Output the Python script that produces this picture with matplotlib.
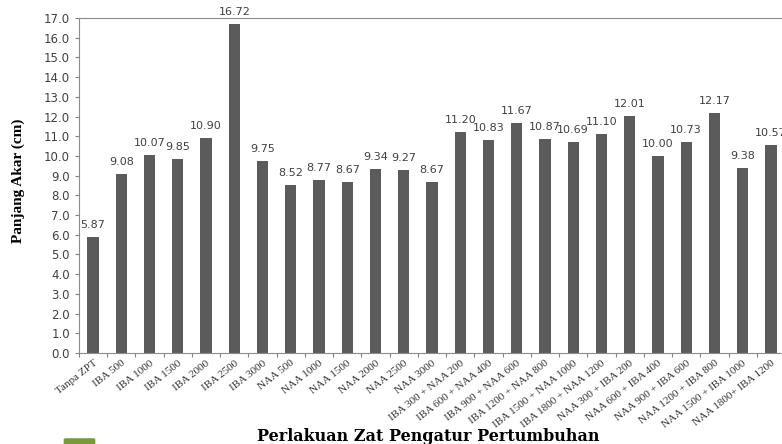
import matplotlib.pyplot as plt
from matplotlib.patches import FancyBboxPatch

# data perlakuan dan panjang akar
perlakuan = ['Tanpa ZPT', 'IBA 500', 'IBA 1000', 'IBA 1500', 'IBA 2000', 'IBA 2500', 'IBA 3000',
             'NAA 500', 'NAA 1000', 'NAA 1500', 'NAA 2000', 'NAA 2500', 'NAA 3000',
             'IBA 300 + NAA 200', 'IBA 600 + NAA 400', 'IBA 900 + NAA 600', 'IBA 1200 + NAA 800',
             'IBA 1500 + NAA 1000', 'IBA 1800 + NAA 1200',
             'NAA 300 + IBA 200', 'NAA 600 + IBA 400', 'NAA 900 + IBA 600', 'NAA 1200 + IBA 800',
             'NAA 1500 + IBA 1000', 'NAA 1800+ IBA 1200']
panjang_akar = [5.87, 9.08, 10.07, 9.85, 10.90, 16.72, 9.75,
                8.52, 8.77, 8.67, 9.34, 9.27, 8.67,
                11.20, 10.83, 11.67, 10.87, 10.69, 11.10,
                12.01, 10.00, 10.73, 12.17, 9.38, 10.57]
y_ticks = [i * 1.0 for i in range(18)]

fig = plt.figure(figsize=(7.82, 4.44), dpi=100)
ax = fig.add_axes([79 / 782, 91 / 444, 706 / 782, 335 / 444])

x = list(range(len(perlakuan)))
ax.bar(x, panjang_akar, width=0.4, color='#5b5b5b', zorder=2)

for xi, v in zip(x, panjang_akar):
    ax.text(xi, v + 0.35, '%.2f' % v, ha='center', va='bottom', fontsize=8,
            color='#404040', family='DejaVu Sans', clip_on=False)

ax.set_xlim(-0.5, len(perlakuan) - 0.5)
ax.set_ylim(0, 17)
ax.set_yticks(y_ticks)
ax.set_yticklabels(['%.1f' % t for t in y_ticks], fontsize=8.5, color='#404040')

# tick x di antara kategori
ax.set_xticks([i + 0.5 for i in range(-1, len(perlakuan))], minor=False)
ax.set_xticklabels([])
ax.set_xticks(x, minor=True)
ax.set_xticklabels(perlakuan, minor=True, rotation=38, ha='right', rotation_mode='anchor',
                   fontsize=8, family='Liberation Serif', color='#333333')
ax.tick_params(axis='x', which='minor', length=0, pad=4)
ax.tick_params(axis='x', which='major', length=3, color='#808080')
ax.tick_params(axis='y', length=3, color='#808080')

for s in ['left', 'bottom', 'top']:
    ax.spines[s].set_color('#8c8c8c')
    ax.spines[s].set_linewidth(0.8)
ax.spines['right'].set_visible(False)

fig.text(428 / 782, 1 - 436 / 444, 'Perlakuan Zat Pengatur Pertumbuhan', ha='center', va='center',
         fontsize=11.5, fontweight='bold', family='DejaVu Serif')
fig.text(18 / 782, 1 - 181 / 444, 'Panjang Akar (cm)', ha='center', va='center', rotation=90,
         fontsize=11, fontweight='bold', family='Liberation Serif')

# potongan kotak hijau di pojok bawah
fig.patches.append(FancyBboxPatch((66 / 782, -0.01), 27 / 782, 0.02, boxstyle='round,pad=0.003',
                                  transform=fig.transFigure, facecolor='#7a9a3a', edgecolor='none'))

plt.savefig('out.png', dpi=100)
